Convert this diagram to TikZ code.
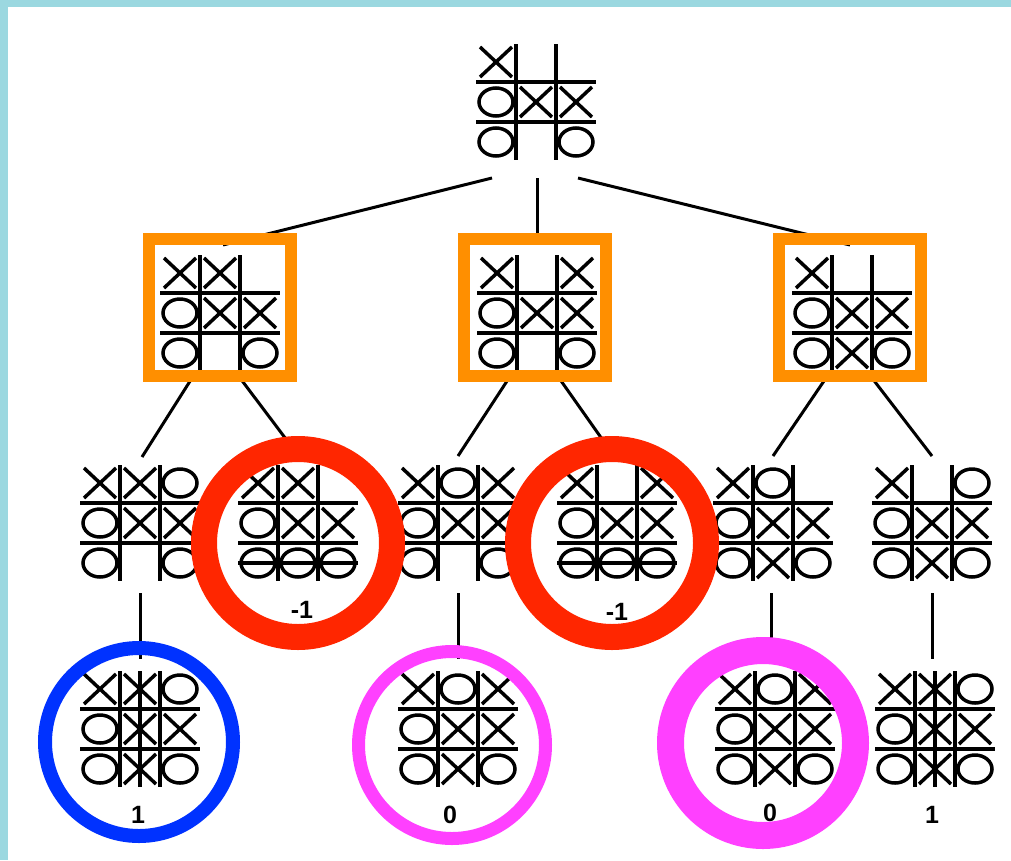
\documentclass[tikz,border=0pt]{standalone}
\usepackage{fontspec}
\newfontfamily\lblfont{Liberation Sans}
\usetikzlibrary{calc}
\definecolor{bgcyan}{RGB}{155,216,224}
\definecolor{boxorange}{RGB}{255,143,0}
\definecolor{ringred}{RGB}{255,38,0}
\definecolor{ringblue}{RGB}{0,50,255}
\definecolor{ringmag}{RGB}{255,64,255}
\tikzset{
  boardnode/.style={minimum width=120pt, minimum height=116pt, inner sep=0pt, outer sep=0pt},
  gridline/.style={line width=4.5pt, black},
  sym/.style={line width=3.5pt, black},
  winline/.style={line width=3.5pt, black},
  edge/.style={line width=3pt, black},
  orangebox/.style={draw=boxorange, line width=12pt},
  valuelabel/.style={font=\lblfont\bfseries\fontsize{25}{25}\selectfont, inner sep=0pt},
}
\newcommand\tttcellX[2]{\draw[sym] (#1-16,#2-15) -- (#1+16,#2+15) (#1-16,#2+15) -- (#1+16,#2-15);}
\newcommand\tttcellO[2]{\draw[sym] (#1,#2) ellipse [x radius=17pt, y radius=14pt];}
\newcommand\tttcelle[2]{}
\newcommand\drawboard[3]{%
  \node[boardnode] (#1) at #2 {};
  \begin{scope}[shift={(#1.center)}]
    \draw[gridline] (-60,-20) -- (60,-20) (-60,20) -- (60,20) (-20,-58) -- (-20,58) (20,-58) -- (20,58);
    \foreach \s [count=\i from 0] in {#3}{%
      \pgfmathtruncatemacro\cc{mod(\i,3)}%
      \pgfmathtruncatemacro\rr{int(\i/3)}%
      \pgfmathsetmacro\cx{(\cc-1)*40}%
      \pgfmathsetmacro\cy{(\rr-1)*40}%
      \csname tttcell\s\endcsname{\cx}{\cy}%
    }
  \end{scope}}
\begin{document}
\begin{tikzpicture}[x=1pt,y=-1pt]
\useasboundingbox (0,0) rectangle (1011,860);
\fill[bgcyan] (0,0) rectangle (1011,860);
\fill[white] (8,7) rectangle (1011,860);
% boards
\drawboard{root}{(536,102)}{X,e,e,O,X,X,O,e,O}
\drawboard{b1}{(220,313)}{X,X,e,O,X,X,O,e,O}
\drawboard{b2}{(537,313)}{X,e,X,O,X,X,O,e,O}
\drawboard{b3}{(852,313)}{X,e,e,O,X,X,O,X,O}
\drawboard{c1}{(140,523)}{X,X,O,O,X,X,O,e,O}
\drawboard{c2}{(298,523)}{X,X,e,O,X,X,O,O,O}
\drawboard{c3}{(458,523)}{X,O,X,O,X,X,O,e,O}
\drawboard{c4}{(617,523)}{X,e,X,O,X,X,O,O,O}
\drawboard{c5}{(773,523)}{X,O,e,O,X,X,O,X,O}
\drawboard{c6}{(932,523)}{X,e,O,O,X,X,O,X,O}
\drawboard{d1}{(140,729)}{X,X,O,O,X,X,O,X,O}
\drawboard{d2}{(458,729)}{X,O,X,O,X,X,O,X,O}
\drawboard{d3}{(775,729)}{X,O,X,O,X,X,O,X,O}
\drawboard{d4}{(935,729)}{X,X,O,O,X,X,O,X,O}
% winning lines
\draw[winline] ($(c2.center)+(-60,40)$) -- ($(c2.center)+(60,40)$);
\draw[winline] ($(c4.center)+(-60,40)$) -- ($(c4.center)+(60,40)$);
\draw[winline] ($(d1.center)+(0,-58)$) -- ($(d1.center)+(0,58)$);
\draw[winline] ($(d4.center)+(0,-58)$) -- ($(d4.center)+(0,58)$);
% edges
\draw[edge] ($(root.center)+(-44,76)$) -- ($(b1.center)+(3,-68)$);
\draw[edge] ($(root.center)+(1,76)$) -- ($(b2.center)+(0,-68)$);
\draw[edge] ($(root.center)+(42,76)$) -- ($(b3.center)+(-2,-68)$);
\draw[edge] ($(b1.center)+(-28,65)$) -- ($(c1.center)+(2,-66)$);
\draw[edge] ($(b1.center)+(20,65)$) -- ($(c2.center)+(0,-68)$);
\draw[edge] ($(b2.center)+(-28,65)$) -- ($(c3.center)+(0,-67)$);
\draw[edge] ($(b2.center)+(22,65)$) -- ($(c4.center)+(-3,-67)$);
\draw[edge] ($(b3.center)+(-26,65)$) -- ($(c5.center)+(0,-67)$);
\draw[edge] ($(b3.center)+(20,65)$) -- ($(c6.center)+(0,-67)$);
\draw[edge] ($(c1.center)+(0,70)$) -- ($(d1.center)+(0,-70)$);
\draw[edge] ($(c3.center)+(0,70)$) -- ($(d2.center)+(0,-70)$);
\draw[edge] ($(c5.center)+(-2,70)$) -- ($(d3.center)+(-4,-70)$);
\draw[edge] ($(c6.center)+(0,70)$) -- ($(d4.center)+(-3,-70)$);
% labels
\node[valuelabel] (v2) at ($(c2.center)+(4,87)$) {-1};
\node[valuelabel] (v4) at ($(c4.center)+(0,89)$) {-1};
\node[valuelabel] (w1) at ($(d1.center)+(-2,86)$) {1};
\node[valuelabel] (w2) at ($(d2.center)+(-8,86)$) {0};
\node[valuelabel] (w3) at ($(d3.center)+(-5,84)$) {0};
\node[valuelabel] (w4) at ($(d4.center)+(-3,86)$) {1};
% orange boxes
\draw[orangebox] ($(b1.center)+(-71,-74)$) rectangle ($(b1.center)+(71,63)$);
\draw[orangebox] ($(b2.center)+(-73,-74)$) rectangle ($(b2.center)+(69,63)$);
\draw[orangebox] ($(b3.center)+(-73,-74)$) rectangle ($(b3.center)+(69,63)$);
% rings
\draw[ringred, line width=26pt] ($(c2.center)+(0,20)$) circle [radius=94pt];
\draw[ringred, line width=26pt] ($(c4.center)+(-5,20)$) circle [radius=94pt];
\draw[ringblue, line width=14pt] ($(d1.center)+(-1,13)$) circle [radius=94pt];
\draw[ringmag, line width=13pt] ($(d2.center)+(-6,16)$) circle [radius=93.5pt];
\draw[ringmag, line width=27pt] ($(d3.center)+(-12,14)$) circle [radius=92.5pt];
\end{tikzpicture}
\end{document}
